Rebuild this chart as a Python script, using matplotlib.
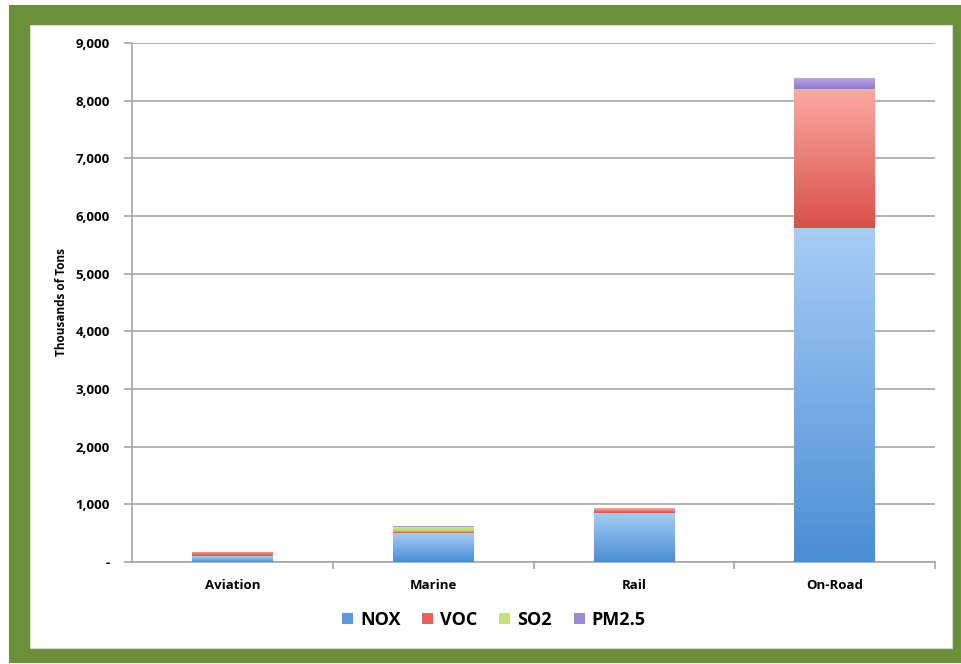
import matplotlib
matplotlib.use("Agg")
import matplotlib.pyplot as plt
import numpy as np
from matplotlib.patches import Rectangle
from matplotlib.colors import LinearSegmentedColormap
from matplotlib.ticker import FuncFormatter, MultipleLocator

plt.rcParams['font.family'] = ['Open Sans', 'DejaVu Sans']
FW = "bold"

categories = ["Aviation", "Marine", "Rail", "On-Road"]
nox = [100, 510, 850, 5790]
voc = [70, 25, 80, 2390]
so2 = [5, 70, 5, 25]
pm25 = [5, 15, 5, 190]
series_names = ["NOX", "VOC", "SO2", "PM2.5"]

# (bottom colour, top colour) gradients per series
grad = {
    "NOX": ("#4a8ed4", "#a8cdf6"),
    "VOC": ("#d9504a", "#fba9a2"),
    "SO2": ("#b5d36a", "#dcee9e"),
    "PM2.5": ("#9279cc", "#b9a4e4"),
}
legend_colors = {"NOX": "#5a9ae0", "VOC": "#e8605a", "SO2": "#c6e07c", "PM2.5": "#a08ad8"}

fig = plt.figure(figsize=(9.61, 6.64), dpi=100)
W, H = 961, 664
# green frame
fig.patches.append(Rectangle((9 / W, 1 - 663 / H), (961 - 9) / W, (663 - 5) / H,
                             transform=fig.transFigure, facecolor="#6a9139",
                             edgecolor="none", zorder=0))
fig.patches.append(Rectangle((30 / W, 1 - 648 / H), (952 - 30) / W, (648 - 25) / H,
                             transform=fig.transFigure, facecolor="white",
                             edgecolor="#d8d8d8", lw=0.8, zorder=1))

ax = fig.add_axes([132 / W, 1 - 562 / H, (935 - 132) / W, (562 - 43) / H])
ax.set_facecolor("none")
ax.set_zorder(2)

x = np.arange(len(categories))
width = 0.4
bottom = np.zeros(len(categories))
all_series = [nox, voc, so2, pm25]
for name, vals in zip(series_names, all_series):
    vals = np.array(vals, dtype=float)
    bars = ax.bar(x, vals, width, bottom=bottom, color=legend_colors[name],
                  label=name, zorder=3, linewidth=0)
    cmap = LinearSegmentedColormap.from_list(name, [grad[name][0], grad[name][1]])
    for b in bars:
        bx, by = b.get_x(), b.get_y()
        bw, bh = b.get_width(), b.get_height()
        if bh <= 0:
            continue
        img = ax.imshow(np.linspace(0, 1, 256).reshape(-1, 1), cmap=cmap,
                        extent=[bx, bx + bw, by, by + bh], origin="lower",
                        aspect="auto", zorder=3.5)
        img.set_clip_path(b)
    bottom += vals

ax.set_xlim(-0.5, 3.5)
ax.set_ylim(0, 9000)
ax.yaxis.set_major_locator(MultipleLocator(1000))
ax.yaxis.set_major_formatter(FuncFormatter(lambda v, p: "-" if v == 0 else f"{int(v):,}"))
ax.grid(axis="y", color="#a6a6a6", linewidth=1.2, zorder=1)
ax.set_axisbelow(True)

for s in ["top", "right"]:
    ax.spines[s].set_visible(False)
for s in ["left", "bottom"]:
    ax.spines[s].set_color("#a6a6a6")
    ax.spines[s].set_linewidth(1.2)

ax.set_xticks(x)
ax.set_xticklabels(categories, fontsize=9.5, fontweight=FW)
ax.tick_params(axis="x", length=0, pad=12)
ax.set_xticks([0.5, 1.5, 2.5, 3.5], minor=True)
ax.tick_params(axis="x", which="minor", length=5, color="#a6a6a6", width=1.2)
ax.tick_params(axis="y", length=6, color="#a6a6a6", width=1.2, labelsize=9.5, pad=10)
for lbl in ax.get_yticklabels():
    lbl.set_fontweight(FW)

ax.set_ylabel("Thousands of Tons", fontsize=8.5, fontweight=FW, labelpad=5)

handles = [Rectangle((0, 0), 1, 1, facecolor=legend_colors[n], edgecolor="none")
           for n in series_names]
fig.legend(handles, series_names, loc="center", bbox_to_anchor=(494 / W, 1 - 620 / H),
           ncol=4, frameon=False, prop={"size": 13, "weight": FW},
           handlelength=0.6, handleheight=0.6, handletextpad=0.4, columnspacing=1.2)

fig.savefig("out.png", dpi=100)
